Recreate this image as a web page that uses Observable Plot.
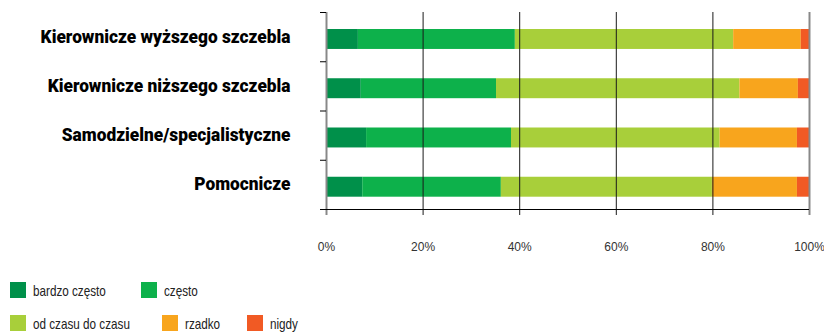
<!DOCTYPE html>
<html>
<head>
<meta charset="utf-8">
<script src="https://cdn.jsdelivr.net/npm/d3@7"></script>
<script src="https://cdn.jsdelivr.net/npm/@observablehq/plot@0.6"></script>
<style>
  body { margin: 0; background: #fff; font-family: "Liberation Sans", Arial, sans-serif; }
  #chart svg { display: block; }
  .legend { position: relative; height: 62px; font-family: "Liberation Sans", Arial, sans-serif; font-size: 15px; color: #222; }
  .item { position: absolute; display: flex; align-items: center; height: 16px; white-space: nowrap; }
  .sw { width: 16px; height: 16px; margin-right: 7px; flex: none; }
  .lt { display: inline-block; transform: scaleX(0.78); transform-origin: left center; }
</style>
</head>
<body>
<div id="chart"></div>
<div class="legend" id="legend"></div>
<script>
const categories = [
  "Kierownicze wyższego szczebla",
  "Kierownicze niższego szczebla",
  "Samodzielne/specjalistyczne",
  "Pomocnicze"
];
const seriesNames = ["bardzo często", "często", "od czasu do czasu", "rzadko", "nigdy"];
const bardzoCzesto = [6.6, 7.2, 8.3, 7.5];
const czesto = [32.5, 28.0, 30.0, 28.7];
const odCzasuDoCzasu = [45.2, 50.4, 43.2, 43.7];
const rzadko = [14.0, 12.1, 16.0, 17.6];
const nigdy = [1.7, 2.3, 2.5, 2.5];
const colors = ["#00904a", "#0db14b", "#a8cf3a", "#f8a51d", "#f15a24"];
const xTicks = [0, 20, 40, 60, 80, 100];

const seriesValues = [bardzoCzesto, czesto, odCzasuDoCzasu, rzadko, nigdy];
const rows = [];
categories.forEach((cat, i) => {
  let acc = 0;
  seriesNames.forEach((s, j) => {
    const v = seriesValues[j][i];
    rows.push({category: cat, i, series: s, x1: acc, x2: acc + v});
    acc += v;
  });
});

const plot = Plot.plot({
  width: 824,
  height: 270,
  marginLeft: 326,
  marginRight: 15,
  marginTop: 12,
  marginBottom: 61,
  x: {domain: [0, 100]},
  y: {type: "linear", domain: [0, categories.length], range: [12, 209]},
  color: {domain: seriesNames, range: colors},
  style: {fontFamily: "Liberation Sans, Arial, sans-serif", color: "#222"},
  marks: [
    Plot.rect(rows, {x1: "x1", x2: "x2", y1: "i", y2: d => d.i + 1, fill: "series", insetTop: 17, insetBottom: 12.3}),
    Plot.ruleX(xTicks.filter(t => t > 0 && t < 100), {x: d => d, y1: 0, y2: categories.length, insetBottom: -6, stroke: "#1a1a1a", strokeWidth: 1}),
    Plot.ruleX([0, 100], {x: d => d, y1: 0, y2: categories.length, insetBottom: -6, stroke: "#888", strokeWidth: 2}),
    Plot.ruleY([categories.length], {y: d => d, insetLeft: -6, stroke: "#000", strokeWidth: 1}),
    Plot.axisY({ticks: d3.range(categories.length + 1), tickFormat: () => "", tickSize: 6, stroke: "#000", label: null}),
    Plot.axisX({ticks: xTicks, tickFormat: d => d + "%", tickSize: 0, tickPadding: 33, fontSize: 12, fill: "#333", label: null}),
    Plot.text(categories, {x: 0, y: (d, i) => i + 0.5, text: d => d, textAnchor: "end", dx: -36, dy: -0.5, fontSize: 18.5, fontWeight: 900, fontFamily: "Roboto, Liberation Sans, sans-serif", fill: "#000"})
  ]
});
document.getElementById("chart").appendChild(plot);

// condense the category labels horizontally (reference uses a condensed bold face)
const labelEls = Array.from(plot.querySelectorAll("text")).filter(t => categories.includes(t.textContent));
const maxW = Math.max(...labelEls.map(t => t.getComputedTextLength()));
const k = 250 / maxW;
labelEls.forEach(t => {
  const tr = t.getAttribute("transform") || "";
  t.setAttribute("transform", tr + ` scale(${k},1)`);
});

const legend = document.getElementById("legend");
const legendLayout = [
  {j: 0, left: 10, top: 12}, {j: 1, left: 141, top: 12},
  {j: 2, left: 10, top: 45}, {j: 3, left: 162, top: 45}, {j: 4, left: 247, top: 45}
];
legendLayout.forEach(({j, left, top}) => {
  const it = document.createElement("div");
  it.className = "item";
  it.style.left = left + "px";
  it.style.top = top + "px";
  const sw = document.createElement("div");
  sw.className = "sw";
  sw.style.background = colors[j];
  const t = document.createElement("span");
  t.className = "lt";
  t.textContent = seriesNames[j];
  it.appendChild(sw);
  it.appendChild(t);
  legend.appendChild(it);
});
</script>
</body>
</html>
